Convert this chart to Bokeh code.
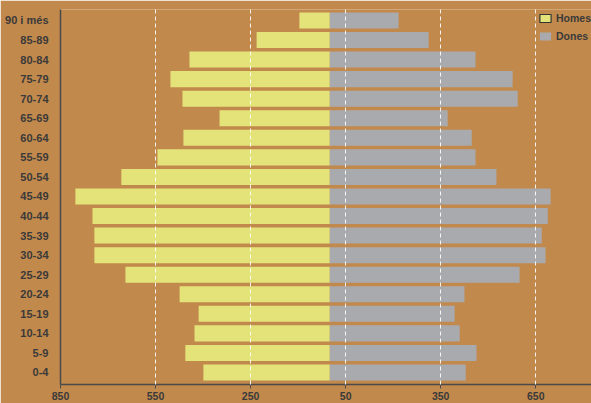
from bokeh.plotting import figure
from bokeh.models import ColumnDataSource, FixedTicker, Legend, LegendItem, Range1d
from bokeh.embed import file_html
from bokeh.resources import INLINE

# ---- data ----
age_groups = ["0-4", "5-9", "10-14", "15-19", "20-24", "25-29", "30-34", "35-39",
              "40-44", "45-49", "50-54", "55-59", "60-64", "65-69", "70-74",
              "75-79", "80-84", "85-89", "90 i més"]
homes = [399, 456, 427, 414, 474, 645, 743, 743, 749, 803, 658, 544, 462, 348,
         465, 503, 443, 231, 96]
dones = [429, 463, 410, 394, 425, 599, 681, 669, 688, 697, 526, 460, 448, 372,
         593, 577, 460, 312, 217]
x_ticks = [-850, -550, -250, 50, 350, 650]
x_tick_labels = ["850", "550", "250", "50", "350", "650"]
grid_ticks = [-550, -250, 50, 350, 650]

BG = "#C2894C"
YELLOW = "#E3E37A"
GRAY = "#A9AAAE"
TEXT = "#3A3A3A"
AXIS = "#4A4A4A"
FONT = "Liberation Sans"

idx = list(range(len(age_groups)))
src = ColumnDataSource(data=dict(
    y=idx,
    h_left=[-v for v in homes],
    zero=[0] * len(idx),
    d_right=dones,
))

p = figure(width=591, height=403, output_backend="svg", toolbar_location=None,
           x_range=Range1d(-850, 826), y_range=Range1d(-0.614, 18.56),
           min_border_left=60, min_border_right=0, min_border_top=9,
           min_border_bottom=19)
p.background_fill_color = BG
p.border_fill_color = BG
p.outline_line_color = None

r_h = p.hbar(y="y", left="h_left", right="zero", height=0.82, source=src,
             fill_color=YELLOW, line_color=None)
r_d = p.hbar(y="y", left="zero", right="d_right", height=0.82, source=src,
             fill_color=GRAY, line_color=None)

# legend-only renderers (one NaN row, draws nothing in the plot)
nan = float("nan")
empty = ColumnDataSource(data=dict(y=[nan], l=[nan], r=[nan]))
leg_h = p.hbar(y="y", left="l", right="r", height=0.8, source=empty,
               fill_color=YELLOW, line_color="#333333", line_width=1.2)
leg_d = p.hbar(y="y", left="l", right="r", height=0.8, source=empty,
               fill_color=GRAY, line_color=None)

legend = Legend(items=[LegendItem(label="Homes", renderers=[leg_h]),
                       LegendItem(label="Dones", renderers=[leg_d])],
                location="top_right")
legend.background_fill_alpha = 0
legend.border_line_color = None
legend.glyph_width = 14
legend.glyph_height = 10
legend.label_height = 18
legend.label_standoff = 4
legend.spacing = 0
legend.padding = 3
legend.margin = 0
legend.label_text_font = FONT
legend.label_text_font_style = "bold"
legend.label_text_font_size = "10.5px"
legend.label_text_color = TEXT
p.add_layout(legend)

# x axis
p.xaxis.ticker = FixedTicker(ticks=x_ticks)
p.xaxis.major_label_overrides = dict(zip(x_ticks, x_tick_labels))
p.xaxis.minor_tick_line_color = None
p.xaxis.major_tick_in = 0
p.xaxis.major_tick_out = 4
p.xaxis.major_tick_line_color = AXIS
p.xaxis.axis_line_color = AXIS
p.xaxis.axis_line_width = 1.5
p.xaxis.major_label_standoff = 3
p.xaxis.major_label_text_font = FONT
p.xaxis.major_label_text_font_style = "bold"
p.xaxis.major_label_text_font_size = "10.5px"
p.xaxis.major_label_text_color = TEXT

# y axis
p.yaxis.ticker = FixedTicker(ticks=idx)
p.yaxis.major_label_overrides = {i: lab for i, lab in enumerate(age_groups)}
p.yaxis.minor_tick_line_color = None
p.yaxis.major_tick_line_color = None
p.yaxis.major_tick_in = 0
p.yaxis.major_tick_out = 0
p.yaxis.axis_line_color = AXIS
p.yaxis.axis_line_width = 1.5
p.yaxis.major_label_standoff = 12
p.yaxis.major_label_text_font = FONT
p.yaxis.major_label_text_font_style = "bold"
p.yaxis.major_label_text_font_size = "11px"
p.yaxis.major_label_text_color = TEXT

# grid
p.ygrid.grid_line_color = None
p.xgrid.ticker = FixedTicker(ticks=grid_ticks)
p.xgrid.grid_line_color = "white"
p.xgrid.grid_line_alpha = 0.9
p.xgrid.grid_line_dash = "4 3"
p.xgrid.grid_line_width = 1
p.xgrid.level = "overlay"

open("out.html", "w").write(file_html(p, INLINE))
